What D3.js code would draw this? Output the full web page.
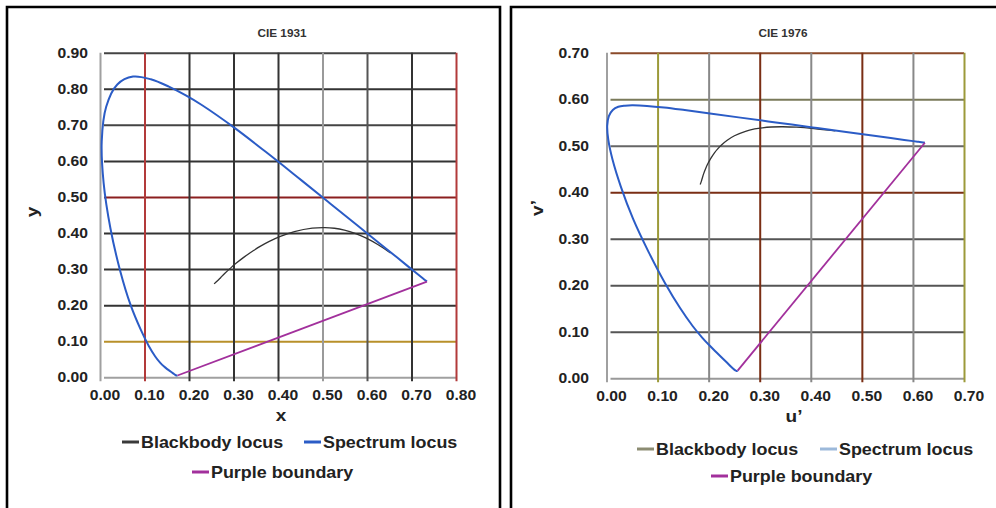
<!DOCTYPE html>
<html>
<head>
<meta charset="utf-8">
<script src="https://cdn.jsdelivr.net/npm/d3@7"></script>
<style>
  body { margin: 0; background: #fff; }
  svg { display: block; }
  text { font-family: "Liberation Sans", Arial, Helvetica, sans-serif; font-weight: bold; fill: #222; }
</style>
</head>
<body>
<svg id="chart" width="996" height="508"></svg>
<script>
// ---- CIE 1931 (x, y) chromaticities ----
// Spectrum locus, 380 nm to 700 nm
const spectrumX = [0.1741, 0.1733, 0.1726, 0.1714, 0.1689, 0.1644, 0.1566, 0.1510, 0.1440, 0.1355,
                   0.1241, 0.1096, 0.0913, 0.0687, 0.0454, 0.0235, 0.0082, 0.0039, 0.0139, 0.0389,
                   0.0743, 0.1142, 0.1547, 0.1929, 0.2296, 0.3016, 0.3731, 0.4441, 0.5125, 0.5752,
                   0.6270, 0.6658, 0.6915, 0.7079, 0.7190, 0.7260, 0.7300, 0.7334, 0.7347];
const spectrumY = [0.0050, 0.0048, 0.0048, 0.0051, 0.0069, 0.0109, 0.0177, 0.0227, 0.0297, 0.0399,
                   0.0578, 0.0868, 0.1327, 0.2007, 0.2950, 0.4127, 0.5384, 0.6548, 0.7502, 0.8120,
                   0.8338, 0.8262, 0.8059, 0.7816, 0.7543, 0.6923, 0.6245, 0.5547, 0.4866, 0.4242,
                   0.3725, 0.3340, 0.3083, 0.2920, 0.2809, 0.2740, 0.2700, 0.2666, 0.2653];
// Blackbody (Planckian) locus, 20000 K down to 1000 K
const blackbodyX = [0.2565, 0.2641, 0.2719, 0.2807, 0.2952, 0.3064, 0.3221, 0.3451, 0.3608, 0.3805,
                    0.4053, 0.4369, 0.4770, 0.5056, 0.5267, 0.5492, 0.5732, 0.5985, 0.6251, 0.6528];
const blackbodyY = [0.2590, 0.2677, 0.2776, 0.2884, 0.3048, 0.3166, 0.3318, 0.3516, 0.3636, 0.3768,
                    0.3907, 0.4041, 0.4137, 0.4152, 0.4133, 0.4082, 0.3993, 0.3858, 0.3674, 0.3444];
// Line of purples
const purpleX = [0.1741, 0.7347];
const purpleY = [0.0050, 0.2653];

// ---- CIE 1976 (u', v') chromaticities ----
const spectrumU = [0.2568, 0.2557, 0.2545, 0.2522, 0.2461, 0.2347, 0.2161, 0.2033, 0.1877, 0.1690,
                   0.1441, 0.1147, 0.0828, 0.0521, 0.0282, 0.0119, 0.0035, 0.0014, 0.0046, 0.0123,
                   0.0231, 0.0360, 0.0501, 0.0643, 0.0792, 0.1127, 0.1531, 0.2026, 0.2623, 0.3315,
                   0.4035, 0.4692, 0.5203, 0.5565, 0.5830, 0.6005, 0.6109, 0.6199, 0.6234];
const spectrumV = [0.0166, 0.0159, 0.0159, 0.0169, 0.0226, 0.0350, 0.0549, 0.0688, 0.0871, 0.1119,
                   0.1510, 0.2044, 0.2708, 0.3427, 0.4117, 0.4698, 0.5131, 0.5432, 0.5638, 0.5770,
                   0.5837, 0.5861, 0.5868, 0.5865, 0.5856, 0.5821, 0.5766, 0.5694, 0.5604, 0.5501,
                   0.5393, 0.5296, 0.5219, 0.5165, 0.5125, 0.5099, 0.5084, 0.5070, 0.5065];
const blackbodyU = [0.1834, 0.1858, 0.1879, 0.1903, 0.1946, 0.1981, 0.2033, 0.2114, 0.2173, 0.2251,
                    0.2357, 0.2505, 0.2722, 0.2901, 0.3051, 0.3231, 0.3450, 0.3722, 0.4060, 0.4481];
const blackbodyV = [0.4166, 0.4239, 0.4317, 0.4400, 0.4521, 0.4606, 0.4712, 0.4847, 0.4927, 0.5016,
                    0.5113, 0.5214, 0.5311, 0.5360, 0.5386, 0.5403, 0.5408, 0.5398, 0.5369, 0.5319];
const purpleU = [0.2568, 0.6234];
const purpleV = [0.0166, 0.5065];

// ---- Axis ticks and labels ----
const ticksX1931 = [0, 0.1, 0.2, 0.3, 0.4, 0.5, 0.6, 0.7, 0.8];
const ticksY1931 = [0, 0.1, 0.2, 0.3, 0.4, 0.5, 0.6, 0.7, 0.8, 0.9];
const ticksU1976 = [0, 0.1, 0.2, 0.3, 0.4, 0.5, 0.6, 0.7];
const ticksV1976 = [0, 0.1, 0.2, 0.3, 0.4, 0.5, 0.6, 0.7];
const seriesNames = ["Blackbody locus", "Spectrum locus", "Purple boundary"];

// ---- Styling ----
const SX = 1.12;                 // horizontal stretch of the lettering
const BLUE = "#2b5cc6", PURPLE = "#a2309c", DARK = "#333";
const gridX1931 = ["#a0a0a0", "#b23a3a", "#333", "#333", "#333", "#9a9a9a", "#555", "#333", "#b23a3a"];
const gridY1931 = ["#a0a0a0", "#b8902a", "#333", "#333", "#333", "#8b1f1f", "#333", "#444", "#333", "#444"];
const gridU1976 = ["#a0a0a0", "#9c9a3a", "#888", "#7a2e14", "#888", "#7a2e14", "#888", "#9c9a3a"];
const gridV1976 = ["#999", "#555", "#555", "#555", "#7a2e14", "#666", "#7a7a5a", "#8b4a2a"];

const svg = d3.select("#chart");
const fmt = d3.format(".2f");

// panel frames
svg.append("path")
  .attr("d", "M7,520 V7 H500 V520")
  .attr("fill", "none").attr("stroke", "#000").attr("stroke-width", 2.6);
svg.append("path")
  .attr("d", "M511,520 V7 H1000")
  .attr("fill", "none").attr("stroke", "#000").attr("stroke-width", 2.6);

function stretchedText(g, x, y, str, size, anchor, rotate) {
  const t = g.append("text")
    .attr("transform", `translate(${x},${y})${rotate ? " rotate(" + rotate + ")" : ""} scale(${SX},1)`)
    .attr("font-size", size)
    .attr("text-anchor", anchor)
    .text(str);
  return t;
}

function panel(cfg) {
  const g = svg.append("g");
  const x = d3.scaleLinear().domain(cfg.xDomain).range(cfg.xRange);
  const y = d3.scaleLinear().domain(cfg.yDomain).range(cfg.yRange);
  const [x0, x1] = cfg.xRange, [y0, y1] = cfg.yRange;

  // horizontal gridlines with left tick marks
  const ax = g.append("g").attr("transform", `translate(${x0},0)`)
    .call(d3.axisLeft(y).tickValues(cfg.yTicks).tickSize(-(x1 - x0)).tickSizeOuter(0).tickFormat(""));
  ax.select(".domain").remove();
  ax.selectAll(".tick line")
    .attr("x1", 4)
    .attr("stroke", (d, i) => cfg.yGrid[i])
    .attr("stroke-width", 2);

  // vertical gridlines with bottom tick marks
  const bx = g.append("g").attr("transform", `translate(0,${y0})`)
    .call(d3.axisBottom(x).tickValues(cfg.xTicks).tickSize(-(y0 - y1)).tickSizeOuter(0).tickFormat(""));
  bx.select(".domain").remove();
  bx.selectAll(".tick line")
    .attr("y1", 4)
    .attr("stroke", (d, i) => cfg.xGrid[i])
    .attr("stroke-width", 2);

  // tick labels
  cfg.yTicks.forEach(v => stretchedText(g, cfg.yLabelRight, y(v) + 5, fmt(v), 14, "end"));
  cfg.xTicks.forEach(v => stretchedText(g, x(v) + 5, cfg.xLabelBase, fmt(v), 14, "middle"));

  // titles
  stretchedText(g, cfg.titleX, 37, cfg.title, 10.5, "middle").style("fill", "#333");
  stretchedText(g, cfg.xTitlePos[0], cfg.xTitlePos[1], cfg.xTitle, 17, "middle");
  stretchedText(g, cfg.yTitlePos[0], cfg.yTitlePos[1], cfg.yTitle, 17, "middle", -90);

  const line = d3.line().x(d => x(d[0])).y(d => y(d[1]));
  const smooth = d3.line().x(d => x(d[0])).y(d => y(d[1])).curve(d3.curveCatmullRom.alpha(0.5));

  g.append("path").datum(d3.zip(cfg.bbX, cfg.bbY))
    .attr("d", smooth).attr("fill", "none").attr("stroke", DARK).attr("stroke-width", 1.3);
  g.append("path").datum(d3.zip(cfg.spX, cfg.spY))
    .attr("d", smooth).attr("fill", "none").attr("stroke", BLUE).attr("stroke-width", 2)
    .attr("stroke-linejoin", "round");
  g.append("path").datum(d3.zip(cfg.puX, cfg.puY))
    .attr("d", line).attr("fill", "none").attr("stroke", PURPLE).attr("stroke-width", 1.8);

  // legend
  cfg.legend.forEach((it, i) => {
    g.append("line")
      .attr("x1", it.x).attr("x2", it.x + 17).attr("y1", it.y).attr("y2", it.y)
      .attr("stroke", cfg.legendColors[i]).attr("stroke-width", 3);
    stretchedText(g, it.x + 19, it.y + 6, seriesNames[i], 16, "start");
  });
}

panel({
  xDomain: [0, 0.8], xRange: [100, 456],
  yDomain: [0, 0.9], yRange: [377.3, 52.7],
  xTicks: ticksX1931, yTicks: ticksY1931,
  xGrid: gridX1931, yGrid: gridY1931,
  yLabelRight: 88, xLabelBase: 400,
  title: "CIE 1931", titleX: 282,
  xTitle: "x", xTitlePos: [281, 421],
  yTitle: "y", yTitlePos: [38, 212],
  bbX: blackbodyX, bbY: blackbodyY,
  spX: spectrumX, spY: spectrumY,
  puX: purpleX, puY: purpleY,
  legendColors: ["#3a3a3a", BLUE, PURPLE],
  legend: [{x: 122, y: 442}, {x: 304, y: 442}, {x: 192, y: 472}]
});

panel({
  xDomain: [0, 0.7], xRange: [606.5, 964],
  yDomain: [0, 0.7], yRange: [378.3, 52.7],
  xTicks: ticksU1976, yTicks: ticksV1976,
  xGrid: gridU1976, yGrid: gridV1976,
  yLabelRight: 589, xLabelBase: 401,
  title: "CIE 1976", titleX: 783,
  xTitle: "u\u2019", xTitlePos: [794, 422],
  yTitle: "v\u2019", yTitlePos: [543, 208],
  bbX: blackbodyU, bbY: blackbodyV,
  spX: spectrumU, spY: spectrumV,
  puX: purpleU, puY: purpleV,
  legendColors: ["#8c8c72", "#9cb9da", PURPLE],
  legend: [{x: 637, y: 449}, {x: 820, y: 449}, {x: 711, y: 476}]
});
</script>
</body>
</html>
